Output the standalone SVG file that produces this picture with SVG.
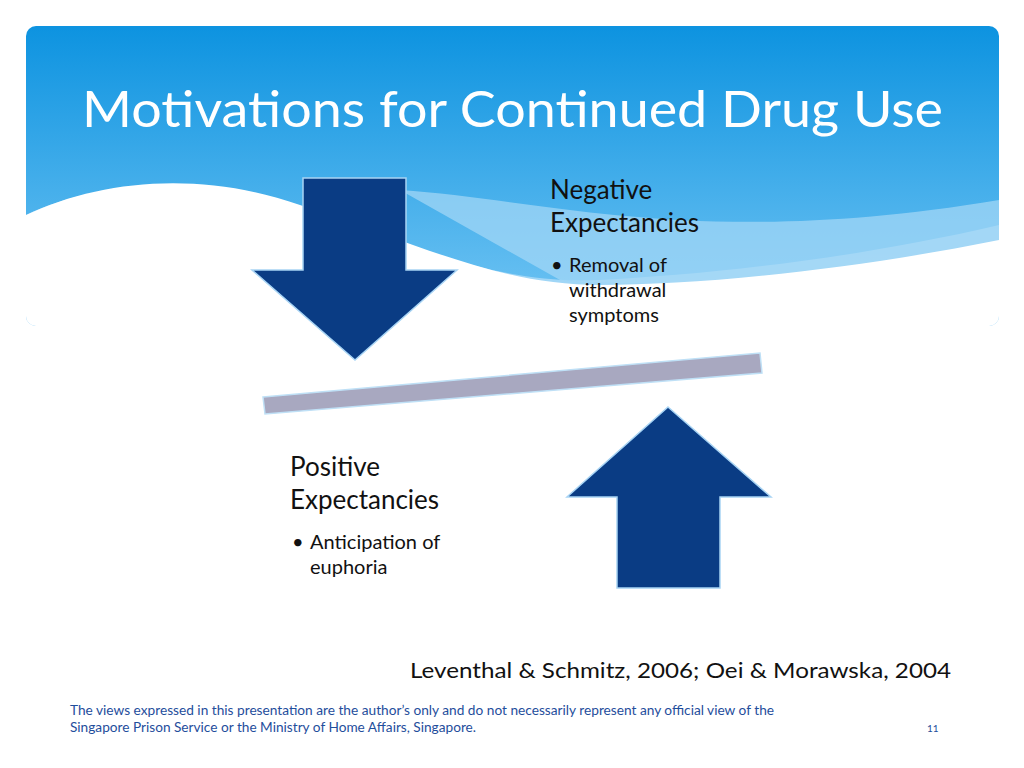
<svg xmlns="http://www.w3.org/2000/svg" width="1024" height="768" viewBox="0 0 1024 768">
<defs>
<linearGradient id="sky" x1="0" y1="0" x2="0" y2="1">
<stop offset="0" stop-color="#0d93e0"/><stop offset="1" stop-color="#74c6f4"/>
</linearGradient>
<clipPath id="hc"><rect x="26" y="26" width="973" height="300" rx="10"/></clipPath>
<style>
text{font-family:Lato,"Liberation Sans",sans-serif}
.h{font-size:26px;fill:#111}
.b{font-size:20px;fill:#111}
.arrow{fill:#0a3c84;stroke:#a8d4f4;stroke-width:1.5}
.foot{font-size:12.5px;fill:#1f4e9c}
</style>
</defs>
<rect width="1024" height="768" fill="#fff"/>
<g clip-path="url(#hc)">
<rect x="26" y="26" width="973" height="300" fill="url(#sky)"/>
<path d="M26 215 C100 180 200 175 320 215 C420 248 500 285 600 280 C700 275 850 260 999 225 L999 330 L26 330 Z" fill="#c8e6fa" opacity="0.6"/>
<path d="M400 190 C550 200 700 250 999 200 L999 250 C850 280 700 290 560 280 Z" fill="#a6d8f6" opacity="0.7"/>
<path d="M26 215 C100 180 200 170 300 205 C420 245 500 285 600 285 C700 285 850 270 999 240 L999 330 L26 330 Z" fill="#fff"/>
</g>
<text x="82" y="127" font-size="50" fill="#fff" textLength="861" lengthAdjust="spacingAndGlyphs">Motivations for Continued Drug Use</text>
<g id="down-arrow"><polygon class="arrow" points="303,178 406,178 406,270 457,270 355,360 252,270 303,270"/></g>
<g id="up-arrow"><polygon class="arrow" points="668,407 771,497 720,497 720,588 617,588 617,497 567,497"/></g>
<g id="beam"><polygon points="263,397 760,353 762,373 265,414" fill="#a8a8c0" stroke="#bfe0f6" stroke-width="1.5"/></g>
<g id="negative">
<text class="h" x="550" y="199">Negative</text>
<text class="h" x="550" y="232">Expectancies</text>
<text class="b" x="551" y="272">•</text>
<text class="b" x="569" y="272">Removal of</text>
<text class="b" x="569" y="297">withdrawal</text>
<text class="b" x="569" y="322">symptoms</text>
</g>
<g id="positive">
<text class="h" x="290" y="476">Positive</text>
<text class="h" x="290" y="509">Expectancies</text>
<text class="b" x="292" y="549">•</text>
<text class="b" x="310" y="549">Anticipation of</text>
<text class="b" x="310" y="574">euphoria</text>
</g>
<text x="410" y="678" font-size="22" fill="#111" textLength="541" lengthAdjust="spacingAndGlyphs">Leventhal &amp; Schmitz, 2006; Oei &amp; Morawska, 2004</text>
<text class="foot" x="70" y="715" textLength="704" lengthAdjust="spacingAndGlyphs">The views expressed in this presentation are the author’s only and do not necessarily represent any official view of the</text>
<text class="foot" x="70" y="732" textLength="406" lengthAdjust="spacingAndGlyphs">Singapore Prison Service or the Ministry of Home Affairs, Singapore.</text>
<text x="927" y="732" font-size="10" fill="#1f4e9c">11</text>
</svg>
